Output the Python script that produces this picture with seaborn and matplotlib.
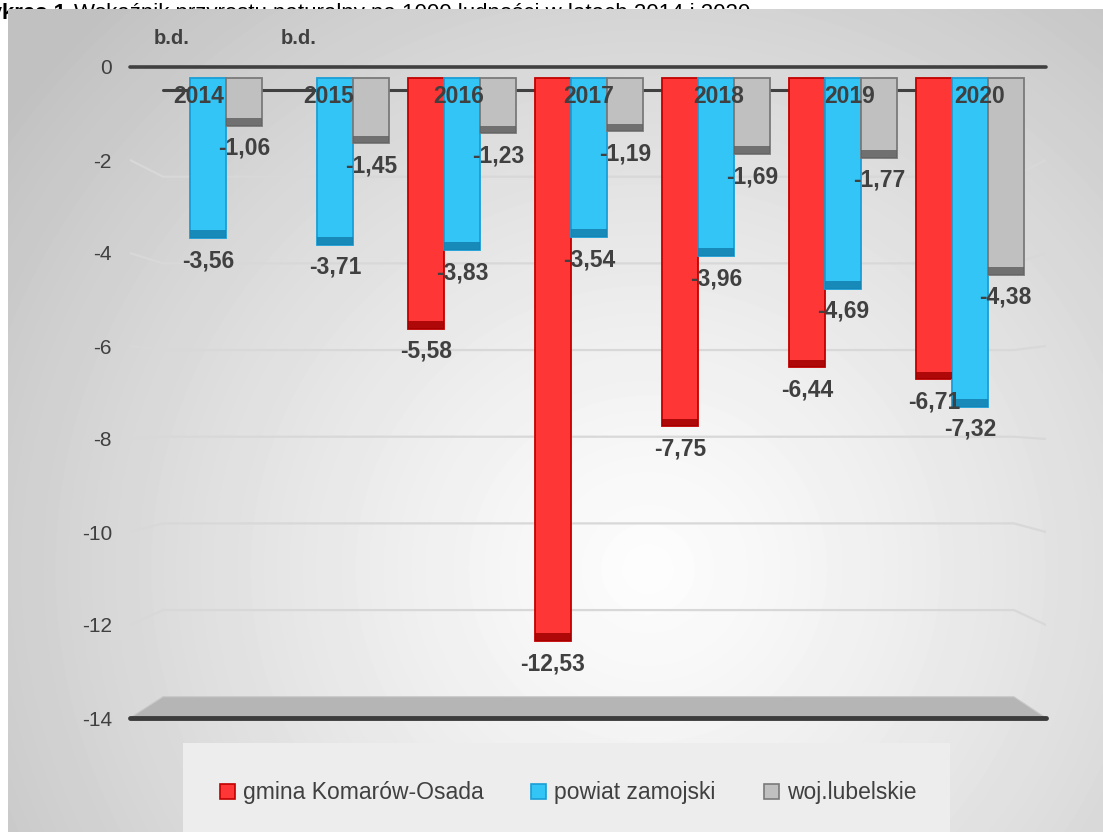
import numpy as np
import pandas as pd
import matplotlib
matplotlib.use("Agg")
import matplotlib.pyplot as plt
import matplotlib.transforms as mtransforms
from matplotlib.patches import Rectangle, Polygon, Patch
import seaborn as sns

# ---------------- data ----------------
years = ["2014", "2015", "2016", "2017", "2018", "2019", "2020"]
gmina = [np.nan, np.nan, -5.58, -12.53, -7.75, -6.44, -6.71]
powiat = [-3.56, -3.71, -3.83, -3.54, -3.96, -4.69, -7.32]
woj = [-1.06, -1.45, -1.23, -1.19, -1.69, -1.77, -4.38]
series_names = ["gmina Komarów-Osada", "powiat zamojski", "woj.lubelskie"]
y_ticks = [0, -2, -4, -6, -8, -10, -12, -14]
missing_label = "b.d."
title_bold = "Wykres 1"
title_text = "Wskaźnik przyrostu naturalny na 1000 ludności w latach 2014 i 2020"

# ---------------- style ----------------
face_colors = ["#ff3636", "#33c5f5", "#c0c0c0"]
edge_colors = ["#c20000", "#1a9ed6", "#7a7a7a"]
cap_colors = ["#a00000", "#1480b0", "#626262"]
text_color = "#404040"

sns.set_style("white")
plt.rcParams["font.family"] = ["Liberation Sans", "DejaVu Sans"]

W, H = 1103, 832
fig = plt.figure(figsize=(W / 100, H / 100), dpi=100)
fig.patch.set_facecolor("white")

# title (partly hidden under the chart area, as in the reference)
fig.text(66 / W, 1 - 19 / H, title_bold, ha="right", va="baseline",
         fontsize=16, fontweight="bold", color="black", zorder=-2)
fig.text(74 / W, 1 - 19 / H, title_text, ha="left", va="baseline",
         fontsize=16, color="black", zorder=-2)

# gradient background of the chart area
bg = fig.add_axes([8 / W, 0, 1 - 8 / W, (H - 9) / H], zorder=0)
bw_px, bh_px = W - 8, H - 9
xx, yy = np.meshgrid(np.arange(bw_px), np.arange(bh_px))
r = np.sqrt(((xx - 640) / 640.0) ** 2 + ((yy - 560) / 620.0) ** 2)
r = np.clip(r, 0, 1.25)
grad = (253 - 60 * (r / 1.25) ** 1.2) / 255.0
grad = np.clip(grad, 0, 1)
bg.imshow(grad, cmap="gray", vmin=0, vmax=1, aspect="auto",
          extent=(0, 1, 0, 1), interpolation="bilinear")
bg.set_xlim(0, 1)
bg.set_ylim(0, 1)
bg.axis("off")

# legend background
fig.add_artist(Rectangle((183 / W, 0), (950 - 183) / W, (832 - 743) / H,
                         transform=fig.transFigure, facecolor="#ededed",
                         edgecolor="none", zorder=0.5))

rect = [130 / W, 1 - 718 / H, 916 / W, 651 / H]
xlim = (-0.614, 6.6)

# ---------------- decoration axes (walls, ticks) ----------------
ax = fig.add_axes(rect, zorder=1)
ax.set_facecolor("none")
ax.set_xlim(*xlim)
ax.set_ylim(-14, 0)
for s in ax.spines.values():
    s.set_visible(False)
ax.set_xticks([])
ax.set_yticks(y_ticks)
ax.set_yticklabels([str(t) for t in y_ticks])
ax.tick_params(axis="y", length=0, pad=13, labelsize=15, labelcolor=text_color)

def back(v):
    return 0.932 * v - 0.495

blend = mtransforms.blended_transform_factory(ax.transAxes, ax.transData)
xl, xr = 0.036, 0.965
for v in y_ticks[1:-1]:
    ax.plot([0, xl, xr, 1.0], [v, back(v), back(v), v], color="#d8d8d8",
            lw=1.6, transform=blend, solid_joinstyle="round")
floor = Polygon([(0, -14), (xl, back(-14)), (xr, back(-14)), (1, -14)],
                closed=True, transform=blend, facecolor="#b5b5b5",
                edgecolor="#c8c8c8", lw=0.8)
ax.add_patch(floor)
ax.plot([0, 1], [-14, -14], color="#3c3c3c", lw=3.5, transform=blend,
        solid_capstyle="round", clip_on=False)
ax.plot([xl, xr], [back(0), back(0)], color="#404040", lw=2.2, transform=blend)

# ---------------- bars axes ----------------
ab = fig.add_axes(rect, zorder=2)
ab.set_facecolor("none")

df = pd.DataFrame({
    "year": years * 3,
    "series": [series_names[0]] * len(years) + [series_names[1]] * len(years)
              + [series_names[2]] * len(years),
    "value": gmina + powiat + woj,
})
df_plot = df.dropna()

sns.barplot(data=df_plot, x="year", y="value", hue="series", order=years,
            hue_order=series_names, palette=dict(zip(series_names, face_colors)),
            width=0.85, saturation=1, errorbar=None, legend=False, ax=ab)
ab.set_xlim(*xlim)
ab.set_ylim(-14.245, 0.245)
ab.axis("off")

for k, cont in enumerate(ab.containers):
    for p in cont.patches:
        p.set_edgecolor(edge_colors[k])
        p.set_linewidth(1.3)
        x, w, h = p.get_x(), p.get_width(), p.get_height()
        ab.add_patch(Rectangle((x, h), w, 0.17, facecolor=cap_colors[k],
                               edgecolor="none", alpha=0.85, zorder=p.get_zorder() + 0.1))
    labels = [f"{p.get_height():.2f}".replace(".", ",") for p in cont.patches]
    ab.bar_label(cont, labels=labels, padding=8, fontsize=16.5,
                 fontweight="bold", color=text_color)

# front zero line
ab.plot([0, 1], [1, 1], transform=ab.transAxes, color="#404040", lw=2.6,
        clip_on=False, solid_capstyle="round", zorder=6)

# year labels and missing-data labels
bar_w = 0.85 / 3
for i, yr in enumerate(years):
    ab.text(i + (i - 3) * 0.025, -0.645, yr, transform=ax.transData,
            ha="center", va="center", fontsize=16.5, fontweight="bold",
            color=text_color, zorder=7)
    if np.isnan(gmina[i]):
        ab.text(i - bar_w, 0.62, missing_label, transform=ax.transData,
                ha="center", va="center", fontsize=14.5, fontweight="bold",
                color=text_color, clip_on=False, zorder=7)

# legend
handles = [Patch(facecolor=fc, edgecolor=ec, lw=1.2)
           for fc, ec in zip(face_colors, edge_colors)]
fig.legend(handles, series_names, loc="center",
           bbox_to_anchor=(568 / W, 1 - 793 / H), ncol=3, frameon=False,
           fontsize=16.5, handlelength=0.65, handleheight=0.65,
           handletextpad=0.35, columnspacing=2.1, labelcolor=text_color)

fig.savefig("out.png", dpi=100)
